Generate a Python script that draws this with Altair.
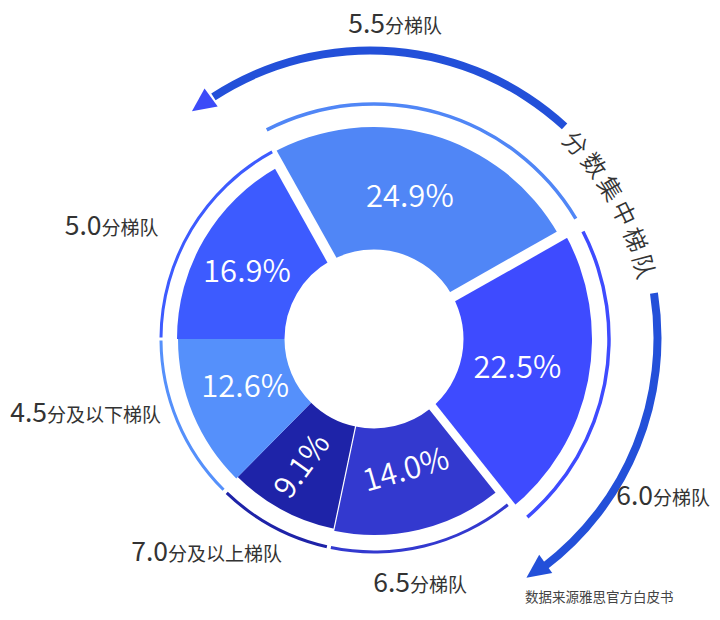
import altair as alt
import pandas as pd
import numpy as np

# ---------------- data ----------------
tiers = ["5.0", "5.5", "6.0", "6.5", "7.0", "4.5"]
tier_suffix = ["分梯队", "分梯队", "分梯队", "分梯队", "分及以上梯队", "分及以下梯队"]
shares = [16.9, 24.9, 22.5, 14.0, 9.1, 12.6]
pct_labels = ["16.9%", "24.9%", "22.5%", "14.0%", "9.1%", "12.6%"]
arc_title = "分数集中梯队"
source_note = "数据来源雅思官方白皮书"

# ---------------- style / layout ----------------
W, H = 704, 604
CX, CY = 366, 331          # donut centre (plot coords)
ACX, ACY = 362, 330        # centre of the outer arrows / arc title
START_DEG = 270            # first slice starts at 9 o'clock
R_IN = 89.5
FONT = "Noto Sans CJK SC"
DEMI = {"expr": "350"}
slice_colors = ["#3D5BFF", "#5086F6", "#3E4BFF", "#3339CF", "#1E23A8", "#5590FB"]
slice_r = [197, 212, 218, 196, 194, 196]
ring_r = [213, 235, 235, 213, 213, 213]
ring_w = [3, 3.5, 3.5, 3, 3, 3]
ring_trim0 = [0.4, 2.0, 2.3, -0.4, 0.9, 0.3]
ring_trim1 = [-0.6, 1.3, 2.2, 0.2, 0.9, 0.4]
label_r = [143, 145.5, 146.5, 136, 146, 138]
label_dth = [-3.1, -1.4, 0.8, -0.4, 0.8, 1.7]
label_rot = [0, 0, 0, 344, 306, 0]
sep_width = [10.2, 10.6, 8.2, 1.2, 0, 0]      # white gap after each slice
sep_shift = [1.7, 1.9, -3.5, 0, 0, 0]
label_anchor = [(101.5, 235), (385, 33), (653, 505), (410, 592), (168, 561), (47, 421.7)]
ARROW_COLOR = "#2350D9"
arrow_spans = [(-33.0, 42.6), (81.0, 143.0)]
arrow_heads = [(324.2, 288, 234.2, "#3C4BF8"), (144.5, 286, 234.5, "#2350D9")]
title_start, title_step, title_r = 46.6, 5.76, 281

THETA = alt.Scale(domain=[0, 360], range=[0, 2 * np.pi])

# ---------------- tables ----------------
n = len(shares)
df = pd.DataFrame({
    "idx": range(n), "tier": tiers, "share": shares, "pct": pct_labels,
    "color": slice_colors, "r": slice_r, "lr": label_r, "ldth": label_dth, "rot": label_rot,
    "sw": sep_width, "shift": sep_shift,
    "rg": ring_r, "rgw": ring_w, "tr0": ring_trim0, "tr1": ring_trim1,
    "rnext": [max(slice_r[i], slice_r[(i + 1) % n]) + 3 for i in range(n)],
})

base = alt.Chart(df).transform_window(
    cum="sum(share)", sort=[alt.SortField("idx")], frame=[None, 0]
).transform_calculate(
    t1=f"{START_DEG} + 3.6*datum.cum",
    t0=f"{START_DEG} + 3.6*(datum.cum - datum.share)",
).transform_calculate(
    tm="(datum.t0 + datum.t1)/2 + datum.ldth",
    a0="datum.t0 + datum.tr0",
    a1="datum.t1 - datum.tr1",
    rr="datum.rg + datum.rgw/2",
    rr0="datum.rg - datum.rgw/2",
)

slices = base.mark_arc().encode(
    x=alt.value(CX), y=alt.value(CY),
    theta=alt.Theta("t0:Q", scale=THETA, stack=False),
    theta2=alt.Theta2("t1:Q"),
    radius=alt.Radius("r:Q", scale=None),
    radius2=alt.value(R_IN),
    fill=alt.Fill("color:N", scale=None),
)

seps = base.transform_filter("datum.sw > 0").transform_calculate(
    rad="datum.t1*PI/180",
).transform_calculate(
    sx=f"{CX} + {R_IN - 6}*sin(datum.rad) + datum.shift*cos(datum.rad)",
    sy=f"{CY} - {R_IN - 6}*cos(datum.rad) + datum.shift*sin(datum.rad)",
    ex=f"{CX} + datum.rnext*sin(datum.rad) + datum.shift*cos(datum.rad)",
    ey=f"{CY} - datum.rnext*cos(datum.rad) + datum.shift*sin(datum.rad)",
).mark_rule(color="white").encode(
    x=alt.X("sx:Q", scale=None, axis=None), y=alt.Y("sy:Q", scale=None, axis=None),
    x2="ex:Q", y2="ey:Q",
    strokeWidth=alt.StrokeWidth("sw:Q", scale=None),
)

rings = base.mark_arc().encode(
    x=alt.value(CX), y=alt.value(CY),
    theta=alt.Theta("a0:Q", scale=THETA, stack=False),
    theta2=alt.Theta2("a1:Q"),
    radius=alt.Radius("rr:Q", scale=None),
    radius2=alt.Radius2("rr0:Q"),
    fill=alt.Fill("color:N", scale=None),
)

pct_text = base.mark_text(font=FONT, fontSize=31, fontWeight=DEMI, color="white").encode(
    x=alt.value(CX), y=alt.value(CY),
    theta=alt.Theta("tm:Q", scale=THETA, stack=False),
    radius=alt.Radius("lr:Q", scale=None),
    angle=alt.Angle("rot:Q", scale=None),
    text="pct:N",
)

arrows_df = pd.DataFrame({"a0": [s[0] for s in arrow_spans], "a1": [s[1] for s in arrow_spans],
                          "ro": 291.5, "ri": 283.5})
arrows = alt.Chart(arrows_df).mark_arc(color=ARROW_COLOR).encode(
    x=alt.value(ACX), y=alt.value(ACY),
    theta=alt.Theta("a0:Q", scale=THETA, stack=False),
    theta2=alt.Theta2("a1:Q"),
    radius=alt.Radius("ro:Q", scale=None),
    radius2=alt.Radius2("ri:Q"),
)

heads_df = pd.DataFrame({"th": [h[0] for h in arrow_heads], "hr": [h[1] for h in arrow_heads],
                         "rot": [h[2] for h in arrow_heads], "color": [h[3] for h in arrow_heads]})
heads = alt.Chart(heads_df).transform_calculate(
    hx=f"{ACX} + datum.hr*sin(datum.th*PI/180)",
    hy=f"{ACY} - datum.hr*cos(datum.th*PI/180)",
).mark_point(shape="M0,-1L0.95,1L-0.95,1Z", filled=True, opacity=1, strokeWidth=0, size=560).encode(
    x=alt.X("hx:Q", scale=None, axis=None), y=alt.Y("hy:Q", scale=None, axis=None),
    angle=alt.Angle("rot:Q", scale=None),
    fill=alt.Fill("color:N", scale=None),
)

title_df = pd.DataFrame({"ch": list(arc_title)})
title_df["th"] = [title_start + title_step * i for i in range(len(arc_title))]
title_df["tr"] = title_r
title = alt.Chart(title_df).mark_text(font=FONT, fontSize=24, fontWeight=DEMI, color="#333333").encode(
    x=alt.value(ACX), y=alt.value(ACY),
    theta=alt.Theta("th:Q", scale=THETA, stack=False),
    radius=alt.Radius("tr:Q", scale=None),
    angle=alt.Angle("th:Q", scale=None),
    text="ch:N",
)

lab_df = pd.DataFrame({"num": tiers, "suf": tier_suffix,
                       "ax": [a[0] - 8 for a in label_anchor], "ay": [a[1] - 8 for a in label_anchor]})
nums = alt.Chart(lab_df).mark_text(font=FONT, fontSize=26.5, color="#333333", align="right",
                                   baseline="alphabetic").encode(
    x=alt.X("ax:Q", scale=None, axis=None), y=alt.Y("ay:Q", scale=None, axis=None), text="num:N")
sufs = alt.Chart(lab_df).mark_text(font=FONT, fontSize=19, color="#333333", align="left",
                                   baseline="alphabetic").encode(
    x=alt.X("ax:Q", scale=None, axis=None), y=alt.Y("ay:Q", scale=None, axis=None), text="suf:N")

src_df = pd.DataFrame({"t": [source_note], "sx": [525 - 8], "sy": [602 - 8]})
src = alt.Chart(src_df).mark_text(font=FONT, fontSize=13.5, color="#444444", align="left",
                                  baseline="alphabetic").encode(
    x=alt.X("sx:Q", scale=None, axis=None), y=alt.Y("sy:Q", scale=None, axis=None), text="t:N")

chart = alt.layer(slices, seps, rings, arrows, heads, pct_text, title, nums, sufs, src).properties(
    width=W, height=H, autosize=alt.AutoSizeParams(type="none"), padding=0,
).configure_view(stroke=None)

chart.save("out.html", embed_options={"renderer": "svg", "actions": False})
